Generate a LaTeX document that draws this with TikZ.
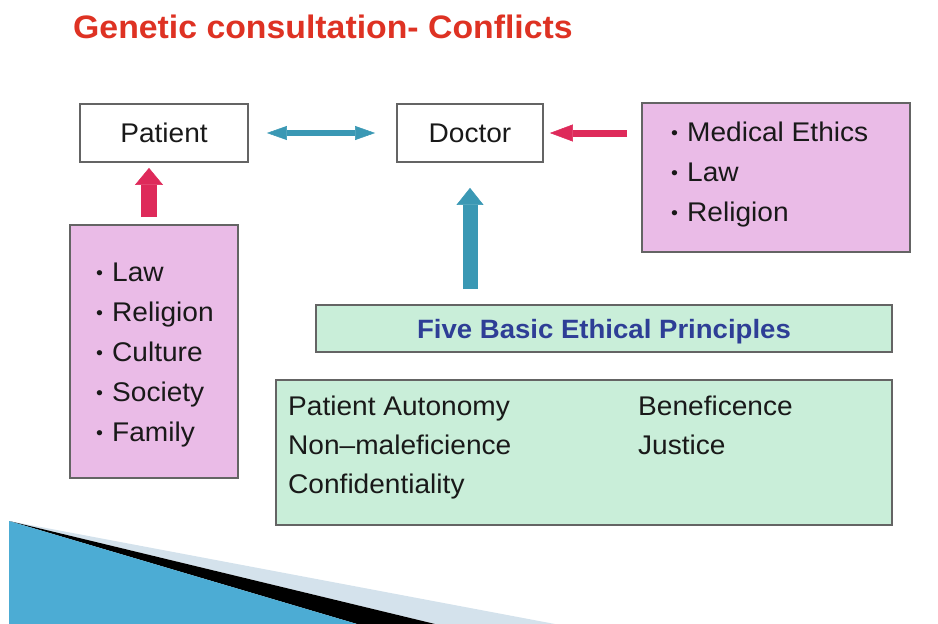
\documentclass[tikz,border=0pt]{standalone}
\usepackage{fontspec}
\setmainfont{Liberation Sans}[FakeStretch=1.04]
\usetikzlibrary{positioning, arrows.meta}

\definecolor{titlered}{RGB}{222,50,35}
\definecolor{boxpink}{RGB}{234,187,231}
\definecolor{boxgreen}{RGB}{201,238,217}
\definecolor{headblue}{RGB}{46,62,150}
\definecolor{arrowteal}{RGB}{58,152,180}
\definecolor{arrowred}{RGB}{222,42,90}
\definecolor{edgegray}{RGB}{100,100,100}
\definecolor{inkblack}{RGB}{25,25,25}
\definecolor{slideblue}{RGB}{76,172,212}
\definecolor{slidegray}{RGB}{212,226,236}

\newcommand{\bul}{\makebox[16pt][l]{\raisebox{1.5pt}{\fontsize{19}{19}\selectfont •}}}

\begin{document}
\begin{tikzpicture}[
    x=1pt, y=-1pt,
    box/.style={draw=edgegray, line width=1.8pt, inner sep=0pt, text=inkblack, font=\fontsize{27}{30}\selectfont},
    item/.style={anchor=base west, inner sep=0pt, text=inkblack, font=\fontsize{27}{30}\selectfont},
    tealarrow/.style={arrowteal, line width=#1},
    redarrow/.style={arrowred, line width=#1}
]
    \useasboundingbox (0,0) rectangle (938,624);

    % Slide corner
    \fill[slidegray] (9,521) -- (555,624) -- (435,624) -- cycle;
    \fill[black] (9,521) -- (435,624) -- (357,624) -- cycle;
    \fill[slideblue] (9,521) -- (357,624) -- (9,624) -- cycle;

    % Title
    \node[anchor=base west, inner sep=0pt, text=titlered, font=\bfseries\fontsize{32.5}{36}\selectfont] (title) at (73,38) {Genetic consultation- Conflicts};

    % Patient and doctor
    \node[box, minimum width=168pt, minimum height=58pt] (pat) at (164,133) {Patient};
    \node[box, minimum width=146pt, minimum height=58pt] (doc) at (470,133) {Doctor};

    % Influences
    \node[box, fill=boxpink, minimum width=168pt, minimum height=253pt] (ctx) at (154,351.5) {};
    \foreach \t [count=\i] in {Law,Religion,Culture,Society,Family} {
        \node[item] (ctx-\i) at (96, {241+\i*40}) {\bul\t};
    }

    \node[box, fill=boxpink, minimum width=268pt, minimum height=149pt] (eth) at (776,177.5) {};
    \foreach \t [count=\i] in {Medical Ethics,Law,Religion} {
        \node[item] (eth-\i) at (671, {101+\i*40}) {\bul\t};
    }

    % Principles
    \node[box, fill=boxgreen, minimum width=576pt, minimum height=47pt, text=headblue, font=\bfseries\fontsize{26.5}{30}\selectfont, text height=19pt, text depth=0pt] (hdr) at (604,328.5) {Five Basic Ethical Principles};
    \node[box, fill=boxgreen, minimum width=616pt, minimum height=145pt] (prn) at (584,452.5) {};

    \node[item] (prn-1) at (288,415) {Patient Autonomy};
    \node[item] (prn-2) at (288,454) {Non–maleficience};
    \node[item] (prn-3) at (288,493) {Confidentiality};
    \node[item] (prn-4) at (638,415) {Beneficence};
    \node[item] (prn-5) at (638,454) {Justice};

    % Arrows
    \draw[tealarrow=6pt, {Triangle[length=20pt,width=14pt,line width=0.5pt]}-{Triangle[length=20pt,width=14pt,line width=0.5pt]}, shorten <=18pt, shorten >=21pt] (pat) -- (doc);
    \draw[redarrow=16pt, -{Triangle[length=17pt,width=28pt,line width=0.5pt]}, shorten <=7pt, shorten >=5pt] ([xshift=-5pt]ctx.north) -- ([xshift=-15pt]pat.south);
    \draw[redarrow=7pt, -{Triangle[length=23pt,width=17pt,line width=0.5pt]}, shorten <=14pt, shorten >=6pt] (eth.west |- doc.east) -- (doc.east);
    \draw[tealarrow=15pt, -{Triangle[length=17pt,width=27pt,line width=0.5pt]}, shorten <=15pt, shorten >=25pt] (doc.south |- hdr.north) -- (doc.south);

\end{tikzpicture}
\end{document}
